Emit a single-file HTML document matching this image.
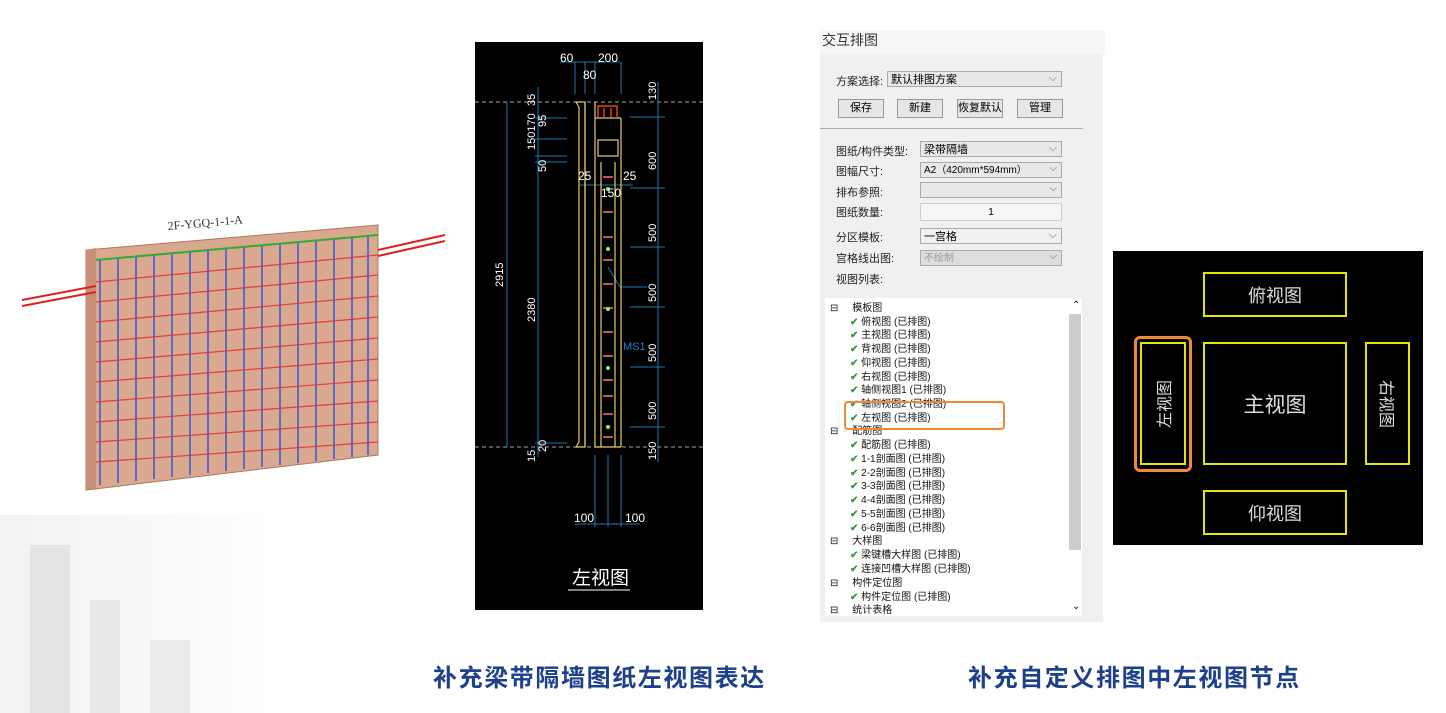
<!DOCTYPE html>
<html><head><meta charset="utf-8"><style>
body{margin:0;width:1446px;height:713px;background:#fff;position:relative;overflow:hidden;font-family:"Liberation Sans","Noto Sans CJK SC",sans-serif}
.a{position:absolute}
.p{font-size:11px;color:#222;white-space:nowrap}
.btn{position:absolute;height:17px;border:1px solid #999;background:#e6e6e6;font-size:11px;text-align:center;line-height:17px}
.sel{position:absolute;left:920px;width:141px;height:16px;border:1px solid #aaa;background:#e8e8e8;font-size:10px;line-height:16px;padding-left:3px;box-sizing:border-box;width:142px}
.sel:after{content:"⌵";position:absolute;right:4px;top:-2px;color:#666}
.tr{position:absolute;font-size:10px;color:#111;white-space:nowrap}
.ck{color:#3a9a3a;font-weight:bold}
.cap{position:absolute;top:658px;font-size:24px;letter-spacing:1.6px;font-weight:bold;color:#1e3f8c;white-space:nowrap}
.yb{position:absolute;border:2px solid #e6e600;color:#ddd;font-size:18px;display:flex;align-items:center;justify-content:center}
.rot{display:inline-block;white-space:nowrap;font-size:16px}
</style></head><body>
<div class="a" style="left:0;top:515px;width:270px;height:198px;background:linear-gradient(90deg,#f2f2f2,#fafafa 70%,#fff)"></div>
<div class="a" style="left:30px;top:545px;width:40px;height:168px;background:#e4e4e4"></div>
<div class="a" style="left:90px;top:600px;width:30px;height:113px;background:#e8e8e8"></div>
<div class="a" style="left:150px;top:640px;width:40px;height:73px;background:#ececec"></div>

<svg class="a" style="left:0;top:190px" width="460" height="310">
<text x="168" y="40" font-size="12" fill="#333" transform="rotate(-5 168 40)" font-family="Liberation Serif">2F-YGQ-1-1-A</text>
<polygon points="86,60 378,35 378,265 86,300" fill="#d9a88f" stroke="#a87a60"/>
<polygon points="86,60 96,58 96,298 86,300" fill="#c89078"/>
<g stroke="#3355dd" stroke-width="1.5">
<line x1="100" y1="70" x2="100" y2="295"/><line x1="118" y1="68" x2="118" y2="293"/><line x1="136" y1="66" x2="136" y2="291"/><line x1="154" y1="65" x2="154" y2="289"/><line x1="172" y1="63" x2="172" y2="287"/><line x1="190" y1="62" x2="190" y2="285"/><line x1="208" y1="60" x2="208" y2="283"/><line x1="226" y1="58" x2="226" y2="281"/><line x1="244" y1="57" x2="244" y2="279"/><line x1="262" y1="55" x2="262" y2="277"/><line x1="280" y1="53" x2="280" y2="275"/><line x1="298" y1="52" x2="298" y2="273"/><line x1="316" y1="50" x2="316" y2="271"/><line x1="334" y1="48" x2="334" y2="269"/><line x1="352" y1="47" x2="352" y2="267"/><line x1="368" y1="45" x2="368" y2="265"/>
</g>
<g stroke="#d84040" stroke-width="1.2">
<line x1="96" y1="92" x2="378" y2="65"/><line x1="96" y1="112" x2="378" y2="85"/><line x1="96" y1="132" x2="378" y2="106"/><line x1="96" y1="152" x2="378" y2="127"/><line x1="96" y1="172" x2="378" y2="148"/><line x1="96" y1="192" x2="378" y2="169"/><line x1="96" y1="212" x2="378" y2="190"/><line x1="96" y1="232" x2="378" y2="211"/><line x1="96" y1="252" x2="378" y2="232"/><line x1="96" y1="272" x2="378" y2="252"/>
</g>
<g stroke="#33aa33" stroke-width="2"><line x1="96" y1="70" x2="378" y2="45"/></g>
<g stroke="#e02020" stroke-width="2"><line x1="22" y1="110" x2="96" y2="96"/><line x1="22" y1="116" x2="96" y2="102"/><line x1="378" y1="60" x2="445" y2="45"/><line x1="378" y1="66" x2="445" y2="51"/></g>
</svg>

<svg class="a" style="left:475px;top:42px;background:#000" width="228" height="568" font-family="Liberation Sans" font-size="12">
<g stroke="#ddd" stroke-dasharray="4,3" stroke-width="0.8"><line x1="0" y1="60" x2="228" y2="60"/><line x1="0" y1="405" x2="228" y2="405"/></g>
<g stroke="#1d78b0" stroke-width="1" fill="none">
<line x1="32" y1="60" x2="32" y2="405"/><line x1="63" y1="45" x2="63" y2="415"/><line x1="183" y1="40" x2="183" y2="420"/>
<line x1="85" y1="20" x2="145" y2="20"/><line x1="100" y1="20" x2="100" y2="52"/><line x1="110" y1="20" x2="110" y2="52"/><line x1="120" y1="20" x2="120" y2="52"/><line x1="146" y1="20" x2="146" y2="52"/>
<line x1="155" y1="75" x2="190" y2="75"/><line x1="155" y1="146" x2="190" y2="146"/><line x1="155" y1="205" x2="190" y2="205"/><line x1="155" y1="265" x2="190" y2="265"/><line x1="155" y1="325" x2="190" y2="325"/><line x1="155" y1="385" x2="190" y2="385"/>
<line x1="60" y1="76" x2="92" y2="76"/><line x1="60" y1="97" x2="92" y2="97"/><line x1="60" y1="114" x2="92" y2="114"/><line x1="60" y1="120" x2="92" y2="120"/><line x1="60" y1="401" x2="92" y2="401"/>
<line x1="105" y1="143" x2="158" y2="143"/><line x1="100" y1="482" x2="165" y2="482"/><line x1="120" y1="413" x2="120" y2="485"/><line x1="133" y1="413" x2="133" y2="485"/><line x1="146" y1="413" x2="146" y2="485"/>
<line x1="133" y1="225" x2="145" y2="245"/><line x1="145" y1="245" x2="172" y2="245"/>
</g>
<g stroke="#e8c870" fill="none" stroke-width="1.2">
<path d="M101 60 L110 60 L110 405 L101 405 L104 400 L104 65 Z"/><line x1="110" y1="60" x2="110" y2="405"/><line x1="120" y1="60" x2="120" y2="405"/><line x1="146" y1="76" x2="146" y2="405"/><line x1="120" y1="76" x2="146" y2="76"/>
<line x1="120" y1="405" x2="146" y2="405"/><line x1="126" y1="120" x2="126" y2="405"/><line x1="140" y1="120" x2="140" y2="405"/>
<rect x="123" y="98" width="20" height="16"/>
</g>
<path d="M123 75 L123 64 L142 64 L142 75 M129 66 V75 M136 66 V75" stroke="#e84010" fill="none" stroke-width="1.5"/>
<g stroke="#ff7080" stroke-width="1.5"><line x1="128" y1="135" x2="138" y2="135"/><line x1="128" y1="170" x2="138" y2="170"/><line x1="128" y1="195" x2="138" y2="195"/><line x1="128" y1="218" x2="138" y2="218"/><line x1="128" y1="242" x2="138" y2="242"/><line x1="128" y1="266" x2="138" y2="266"/><line x1="128" y1="290" x2="138" y2="290"/><line x1="128" y1="314" x2="138" y2="314"/><line x1="128" y1="338" x2="138" y2="338"/><line x1="128" y1="354" x2="138" y2="354"/><line x1="128" y1="372" x2="138" y2="372"/><line x1="128" y1="395" x2="138" y2="395"/></g>
<g fill="#8f4"><circle cx="133" cy="147" r="2"/><circle cx="133" cy="207" r="2"/><circle cx="133" cy="267" r="2"/><circle cx="133" cy="326" r="2"/><circle cx="133" cy="385" r="2"/></g>
<g fill="#fff"><text x="85" y="20">60</text><text x="123" y="20">200</text><text x="108" y="37">80</text><text x="103" y="138">25</text><text x="148" y="138">25</text><text x="126" y="155">150</text><text x="99" y="480">100</text><text x="150" y="480">100</text></g>
<g fill="#fff" font-size="11">
<text transform="translate(60,64) rotate(-90)">35</text><text transform="translate(71,85) rotate(-90)">95</text><text transform="translate(60,108) rotate(-90)">150170</text><text transform="translate(71,130) rotate(-90)">50</text><text transform="translate(28,245) rotate(-90)">2915</text><text transform="translate(60,280) rotate(-90)">2380</text><text transform="translate(71,410) rotate(-90)">20</text><text transform="translate(60,420) rotate(-90)">15</text>
<text transform="translate(181,58) rotate(-90)">130</text><text transform="translate(181,128) rotate(-90)">600</text><text transform="translate(181,200) rotate(-90)">500</text><text transform="translate(181,260) rotate(-90)">500</text><text transform="translate(181,320) rotate(-90)">500</text><text transform="translate(181,378) rotate(-90)">500</text><text transform="translate(181,418) rotate(-90)">150</text></g>
<text x="148" y="308" fill="#2a7ad0" font-size="11">MS1</text>
<text x="97" y="542" fill="#fff" font-size="19" font-family="Noto Sans CJK SC">左视图</text>
<line x1="93" y1="548" x2="155" y2="548" stroke="#fff"/>
</svg>

<div class="a" style="left:820px;top:30px;width:283px;height:592px;background:#f0f0f0"></div>
<div class="a" style="left:820px;top:30px;width:283px;height:24px;background:#f7f7f7;font-size:14px;color:#333;line-height:20px;padding-left:2px">交互排图</div>
<div class="a p" style="left:836px;top:73px">方案选择:</div>
<div class="sel" style="left:887px;top:71px;width:175px;font-size:11px">默认排图方案</div>
<div class="btn" style="left:838px;top:99px;width:44px">保存</div>
<div class="btn" style="left:897px;top:99px;width:44px">新建</div>
<div class="btn" style="left:957px;top:99px;width:44px">恢复默认</div>
<div class="btn" style="left:1017px;top:99px;width:44px">管理</div>
<div class="a" style="left:820px;top:128px;width:263px;height:1px;background:#aaa"></div>
<div class="a p" style="left:836px;top:143px">图纸/构件类型:</div><div class="sel" style="top:141px;font-size:11px">梁带隔墙</div>
<div class="a p" style="left:836px;top:163px">图幅尺寸:</div><div class="sel" style="top:162px">A2（420mm*594mm）</div>
<div class="a p" style="left:836px;top:184px">排布参照:</div><div class="sel" style="top:182px"></div>
<div class="a p" style="left:836px;top:204px">图纸数量:</div><div class="a" style="left:920px;top:203px;width:142px;height:18px;border:1px solid #ccc;background:#f6f6f6;font-size:10px;text-align:center;line-height:18px;box-sizing:border-box">1</div>
<div class="a p" style="left:836px;top:229px">分区模板:</div><div class="sel" style="top:228px;font-size:11px;background:#f0f0f0">一宫格</div>
<div class="a p" style="left:836px;top:250px">宫格线出图:</div><div class="sel" style="top:250px;background:#ddd;color:#999">不绘制</div>
<div class="a p" style="left:836px;top:271px">视图列表:</div>
<div class="a" style="left:825px;top:298px;width:257px;height:318px;background:#fff"></div>
<div class="a" style="left:1069px;top:314px;width:12px;height:236px;background:#cdcdcd"></div>
<div class="tr" style="left:1072px;top:300px">⌃</div><div class="tr" style="left:1072px;top:601px">⌄</div>
<div class="tr" style="left:830px;top:299px">⊟ &nbsp;&nbsp;&nbsp;&nbsp;模板图</div>
<div class="tr" style="left:850px;top:313px"><span class="ck">✔</span> 俯视图 (已排图)</div>
<div class="tr" style="left:850px;top:326px"><span class="ck">✔</span> 主视图 (已排图)</div>
<div class="tr" style="left:850px;top:340px"><span class="ck">✔</span> 背视图 (已排图)</div>
<div class="tr" style="left:850px;top:354px"><span class="ck">✔</span> 仰视图 (已排图)</div>
<div class="tr" style="left:850px;top:368px"><span class="ck">✔</span> 右视图 (已排图)</div>
<div class="tr" style="left:850px;top:381px"><span class="ck">✔</span> 轴侧视图1 (已排图)</div>
<div class="tr" style="left:850px;top:395px"><span class="ck">✔</span> 轴侧视图2 (已排图)</div>
<div class="tr" style="left:850px;top:409px"><span class="ck">✔</span> 左视图 (已排图)</div>
<div class="tr" style="left:830px;top:422px">⊟ &nbsp;&nbsp;&nbsp;&nbsp;配筋图</div>
<div class="tr" style="left:850px;top:436px"><span class="ck">✔</span> 配筋图 (已排图)</div>
<div class="tr" style="left:850px;top:450px"><span class="ck">✔</span> 1-1剖面图 (已排图)</div>
<div class="tr" style="left:850px;top:464px"><span class="ck">✔</span> 2-2剖面图 (已排图)</div>
<div class="tr" style="left:850px;top:477px"><span class="ck">✔</span> 3-3剖面图 (已排图)</div>
<div class="tr" style="left:850px;top:491px"><span class="ck">✔</span> 4-4剖面图 (已排图)</div>
<div class="tr" style="left:850px;top:505px"><span class="ck">✔</span> 5-5剖面图 (已排图)</div>
<div class="tr" style="left:850px;top:519px"><span class="ck">✔</span> 6-6剖面图 (已排图)</div>
<div class="tr" style="left:830px;top:532px">⊟ &nbsp;&nbsp;&nbsp;&nbsp;大样图</div>
<div class="tr" style="left:850px;top:546px"><span class="ck">✔</span> 梁键槽大样图 (已排图)</div>
<div class="tr" style="left:850px;top:560px"><span class="ck">✔</span> 连接凹槽大样图 (已排图)</div>
<div class="tr" style="left:830px;top:574px">⊟ &nbsp;&nbsp;&nbsp;&nbsp;构件定位图</div>
<div class="tr" style="left:850px;top:588px"><span class="ck">✔</span> 构件定位图 (已排图)</div>
<div class="tr" style="left:830px;top:601px">⊟ &nbsp;&nbsp;&nbsp;&nbsp;统计表格</div>
<div class="a" style="left:844px;top:401px;width:157px;height:25px;border:2px solid #f0883a;border-radius:4px"></div>

<div class="a" style="left:1113px;top:251px;width:310px;height:294px;background:#000"></div>
<div class="yb" style="left:1203px;top:272px;width:140px;height:41px">俯视图</div>
<div class="yb" style="left:1203px;top:342px;width:140px;height:119px;font-size:21px">主视图</div>
<div class="yb" style="left:1203px;top:490px;width:140px;height:41px">仰视图</div>
<div class="yb" style="left:1140px;top:342px;width:42px;height:119px"><span class="rot" style="transform:rotate(-90deg)">左视图</span></div>
<div class="yb" style="left:1365px;top:342px;width:41px;height:119px"><span class="rot" style="transform:rotate(90deg)">右视图</span></div>
<div class="a" style="left:1134px;top:336px;width:52px;height:130px;border:3px solid #f0883a;border-radius:6px"></div>

<div class="cap" style="left:433px">补充梁带隔墙图纸左视图表达</div>
<div class="cap" style="left:968px">补充自定义排图中左视图节点</div>
</body></html>
